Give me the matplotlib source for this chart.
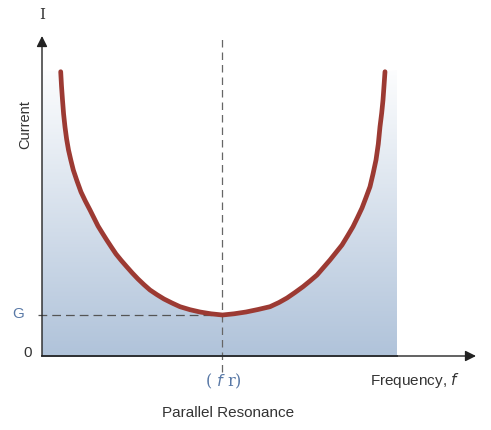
import numpy as np
import matplotlib.pyplot as plt
from matplotlib.path import Path
from matplotlib.patches import PathPatch

# frequency / current (arbitrary units)
freq = [18.7, 19.5, 20.5, 21.6, 23, 24.6, 26.5, 28.8, 31.3, 35, 39, 43.3, 48,
        52, 56, 60.3, 64.7, 69.3, 74, 79.3, 84.7, 90.3, 96, 102, 108, 115,
        122, 130, 138, 148, 158, 169, 180.5, 192, 204, 216, 228, 237, 245,
        253, 261, 268, 275, 281.5, 288, 294, 300, 305.5, 311, 315.5, 320,
        324, 328, 331, 334, 336.3, 338, 339.7, 341, 342, 343]
current = [284.3, 270, 256, 242, 229, 217, 206, 196, 186, 175, 164, 155, 146,
           138, 130, 123, 116, 109, 102, 95.5, 89.3, 83, 77, 71.3, 66, 61.3,
           57, 53, 49.3, 46.3, 44, 42.2, 41, 42.2, 44, 46.5, 49.3, 53.5, 58,
           63.5, 69.3, 75, 81, 88.5, 96, 103.5, 111, 120, 129.3, 138.5, 148,
           158.5, 169.3, 182, 196, 212, 229.3, 243, 256, 270, 284.3]

f_res = 180.5
G = 41
fill_right = 355
fill_top = 286

fig = plt.figure(figsize=(4.91, 4.30), dpi=100)
ax = fig.add_axes([0, 0, 1, 1])
ax.set_xlim(-42, 449)
ax.set_ylim(-74, 356)
ax.axis('off')

# gradient area under the curve
verts = [(0, 0), (0, fill_top)] + list(zip(freq, current)) + [(fill_right, fill_top), (fill_right, 0), (0, 0)]
clip = PathPatch(Path(verts), facecolor='none', edgecolor='none')
ax.add_patch(clip)
top = np.array([1.0, 1.0, 1.0])
bot = np.array([176, 195, 218]) / 255
t = np.linspace(0, 1, 256)[:, None]
grad = (top * (1 - t) + bot * t)[:, None, :]
im = ax.imshow(grad, extent=[0, fill_right, 0, fill_top + 10], aspect='auto',
               origin='upper', zorder=1)
im.set_clip_path(clip)

# curve
ax.plot(freq, current, color='#9c3a33', lw=3.4, solid_capstyle='round',
        solid_joinstyle='round', zorder=4)

# dashed guides
ax.plot([f_res, f_res], [-16, 321], color='#666666', lw=0.9, dashes=(6, 4), zorder=3)
ax.plot([-4, f_res], [G, G], color='#555555', lw=0.9, dashes=(7, 4), zorder=3)

# axes with arrow heads
ax.annotate('', xy=(0, 320), xytext=(0, 0),
            arrowprops=dict(arrowstyle='-|>', color='#222222', lw=1.0,
                            mutation_scale=16, shrinkA=0, shrinkB=0), zorder=5)
ax.annotate('', xy=(434, 0), xytext=(0, 0),
            arrowprops=dict(arrowstyle='-|>', color='#222222', lw=1.0,
                            mutation_scale=16, shrinkA=0, shrinkB=0), zorder=5)
ax.plot([0, fill_right], [0, 0], color='#4f5560', lw=1.4, zorder=4)

txt = '#333333'
blue = '#5878a6'
ax.text(0, 341, 'I', family='DejaVu Serif', fontsize=11, color=txt, ha='center', va='center')
ax.text(-17, 231, 'Current', family='Liberation Sans', fontsize=10.5, color=txt,
        rotation=90, ha='center', va='center')
ax.text(-24, G + 1, 'G', family='Liberation Sans', fontsize=11, color=blue, ha='center', va='center')
ax.text(-14, 3, '0', family='Liberation Sans', fontsize=11, color=txt, ha='center', va='center')
ax.text(f_res + 1, -25, r'( $\it{f}$ r)', family='DejaVu Serif', fontsize=11.5, color=blue,
        ha='center', va='center')
ax.text(328, -24, r'Frequency, $\it{f}$', family='Liberation Sans', fontsize=11, color=txt,
        ha='left', va='center')
ax.text(186, -57, 'Parallel Resonance', family='Liberation Sans', fontsize=11, color=txt,
        ha='center', va='center')

fig.savefig('out.png', dpi=100)
